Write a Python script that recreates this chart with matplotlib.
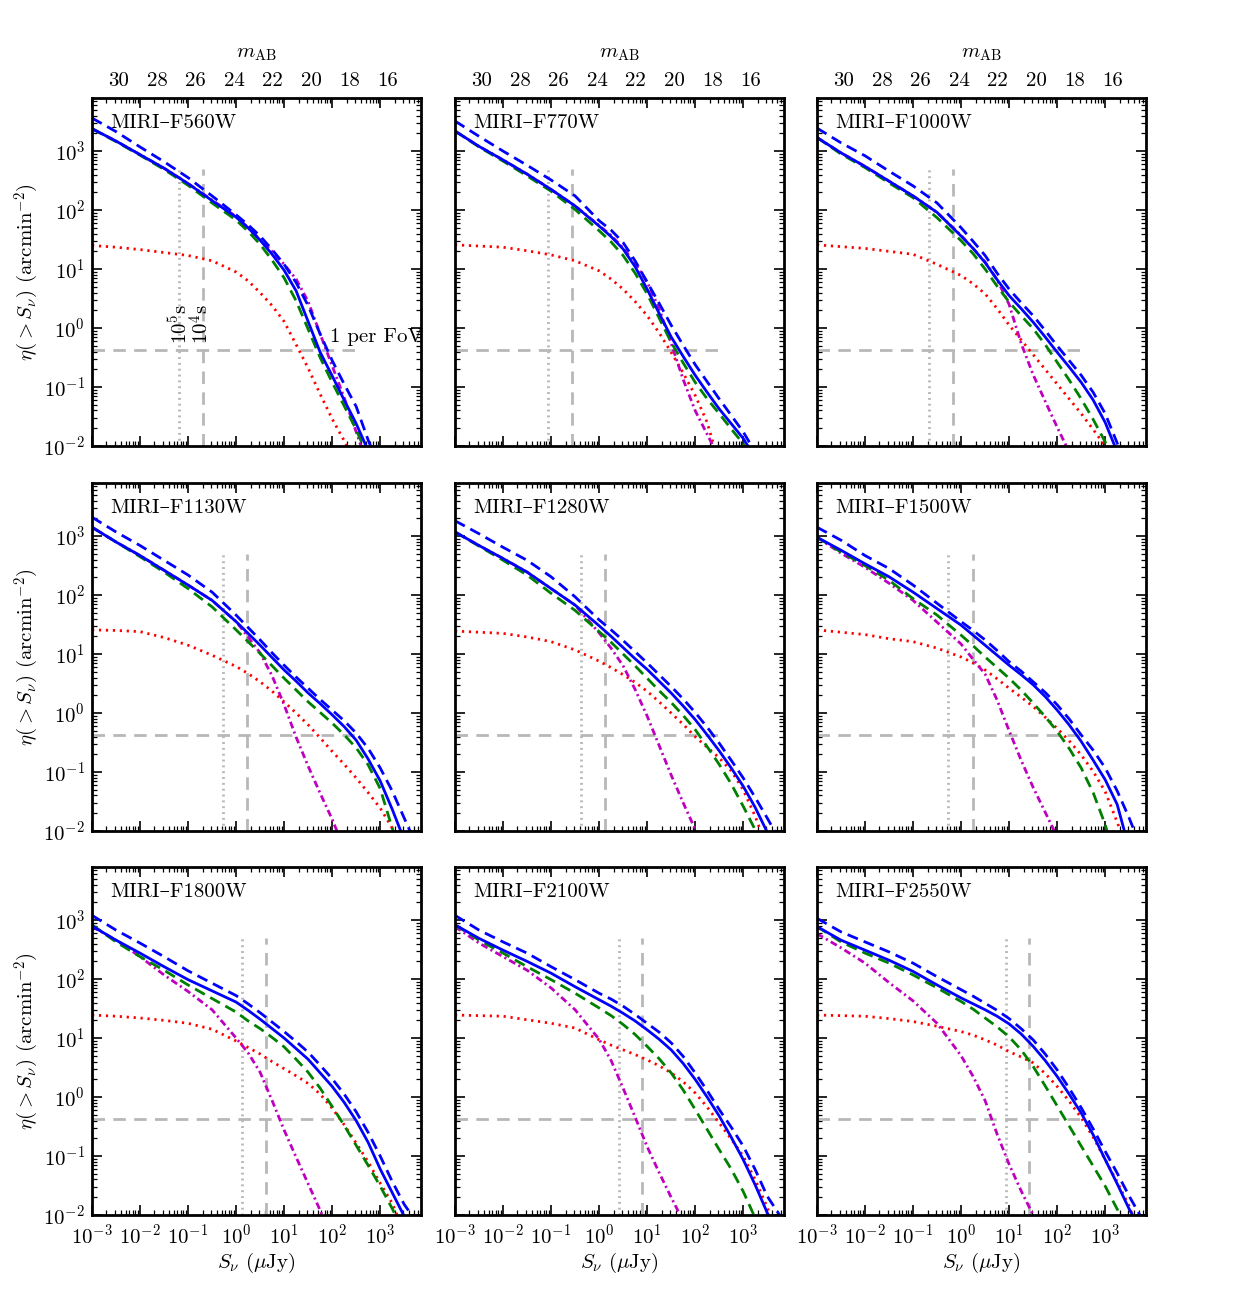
import numpy as np
import matplotlib
matplotlib.use("Agg")
import matplotlib.pyplot as plt
from matplotlib.ticker import LogLocator, NullFormatter, FixedLocator, FormatStrFormatter

plt.rcParams['font.family'] = ['cmr10', 'DejaVu Serif']
plt.rcParams['mathtext.fontset'] = 'cm'
plt.rcParams['axes.formatter.use_mathtext'] = True
plt.rcParams['axes.unicode_minus'] = False
plt.rcParams['lines.scale_dashes'] = False

### DATA ###
filters = ['MIRI–F560W', 'MIRI–F770W', 'MIRI–F1000W',
           'MIRI–F1130W', 'MIRI–F1280W', 'MIRI–F1500W',
           'MIRI–F1800W', 'MIRI–F2100W', 'MIRI–F2550W']

# log10 S_nu (uJy) where the curves were read
log_S = [-3, -2.5, -2, -1.5, -1, -0.5, 0, 0.25, 0.5, 0.75, 1, 1.25,
         1.5, 1.75, 2, 2.25, 2.5, 2.75, 3, 3.25, 3.5, 4]

# log10 eta(>S) (arcmin^-2), one row per filter
# total counts (solid blue)
log_eta_total = [
    [3.38, 3.17, 2.94, 2.71, 2.45, 2.16, 1.88, 1.70, 1.49, 1.25, 0.98, 0.63, 0.11, -0.41, -0.81, -1.22, -1.62, -2.08, -2.55, -3.0, -3.5, -4.4],
    [3.34, 3.08, 2.85, 2.61, 2.35, 2.07, 1.73, 1.55, 1.34, 1.04, 0.66, 0.25, -0.15, -0.48, -0.80, -1.09, -1.37, -1.62, -1.87, -2.2, -2.6, -3.4],
    [3.23, 2.97, 2.74, 2.49, 2.24, 1.96, 1.56, 1.35, 1.11, 0.82, 0.55, 0.33, 0.10, -0.15, -0.41, -0.66, -0.92, -1.22, -1.60, -2.1, -2.7, -4.0],
    [3.15, 2.90, 2.67, 2.42, 2.17, 1.91, 1.55, 1.35, 1.15, 0.94, 0.73, 0.54, 0.34, 0.16, -0.03, -0.23, -0.46, -0.78, -1.15, -1.63, -2.15, -3.2],
    [3.07, 2.84, 2.62, 2.39, 2.11, 1.83, 1.48, 1.30, 1.11, 0.92, 0.74, 0.54, 0.34, 0.12, -0.11, -0.37, -0.64, -0.93, -1.24, -1.60, -2.02, -3.0],
    [2.98, 2.76, 2.53, 2.31, 2.05, 1.77, 1.49, 1.32, 1.15, 0.98, 0.81, 0.65, 0.48, 0.28, 0.05, -0.20, -0.48, -0.80, -1.13, -1.55, -2.3, -3.3],
    [2.90, 2.66, 2.44, 2.21, 1.99, 1.80, 1.61, 1.47, 1.32, 1.16, 1.00, 0.82, 0.64, 0.41, 0.18, -0.09, -0.40, -0.77, -1.22, -1.62, -2.02, -2.8],
    [2.92, 2.69, 2.49, 2.30, 2.10, 1.87, 1.65, 1.54, 1.42, 1.29, 1.14, 0.98, 0.80, 0.57, 0.30, 0.00, -0.32, -0.68, -1.06, -1.49, -1.96, -2.8],
    [2.89, 2.66, 2.49, 2.32, 2.13, 1.90, 1.68, 1.58, 1.48, 1.37, 1.24, 1.07, 0.86, 0.62, 0.35, 0.05, -0.27, -0.64, -1.06, -1.47, -1.90, -2.6],
]
# upper total (dashed blue)
log_eta_total_hi = [
    [3.56, 3.33, 3.07, 2.82, 2.55, 2.24, 1.92, 1.75, 1.56, 1.33, 1.08, 0.77, 0.38, -0.10, -0.55, -0.95, -1.33, -1.90, -2.4, -2.9, -3.4, -4.3],
    [3.51, 3.25, 3.00, 2.76, 2.51, 2.24, 1.82, 1.66, 1.45, 1.14, 0.78, 0.42, 0.05, -0.29, -0.62, -0.91, -1.20, -1.48, -1.76, -2.1, -2.5, -3.3],
    [3.39, 3.14, 2.92, 2.66, 2.41, 2.12, 1.70, 1.47, 1.23, 0.93, 0.66, 0.43, 0.21, -0.04, -0.30, -0.55, -0.80, -1.09, -1.45, -1.95, -2.5, -3.5],
    [3.32, 3.07, 2.84, 2.59, 2.34, 2.05, 1.66, 1.45, 1.24, 1.02, 0.81, 0.61, 0.42, 0.23, 0.05, -0.13, -0.34, -0.60, -0.93, -1.32, -1.78, -2.7],
    [3.26, 3.04, 2.81, 2.59, 2.31, 1.97, 1.58, 1.41, 1.23, 1.04, 0.85, 0.65, 0.45, 0.24, 0.01, -0.24, -0.51, -0.80, -1.10, -1.43, -1.78, -2.5],
    [3.15, 2.93, 2.67, 2.45, 2.17, 1.86, 1.55, 1.40, 1.24, 1.06, 0.87, 0.71, 0.53, 0.35, 0.14, -0.10, -0.37, -0.63, -0.93, -1.32, -1.78, -2.8],
    [3.08, 2.83, 2.61, 2.38, 2.14, 1.93, 1.72, 1.58, 1.43, 1.27, 1.11, 0.94, 0.76, 0.54, 0.31, 0.05, -0.25, -0.60, -1.00, -1.43, -1.82, -2.4],
    [3.08, 2.83, 2.63, 2.44, 2.21, 1.99, 1.76, 1.66, 1.54, 1.40, 1.25, 1.10, 0.92, 0.69, 0.41, 0.11, -0.21, -0.51, -0.83, -1.23, -1.68, -2.3],
    [3.03, 2.80, 2.63, 2.46, 2.27, 2.04, 1.82, 1.71, 1.59, 1.47, 1.33, 1.16, 0.97, 0.73, 0.46, 0.15, -0.18, -0.54, -0.92, -1.29, -1.68, -2.4],
]
# dashed green component
log_eta_green = [
    [3.38, 3.16, 2.93, 2.69, 2.42, 2.12, 1.83, 1.64, 1.42, 1.15, 0.85, 0.46, -0.02, -0.50, -0.92, -1.32, -1.72, -2.2, -2.7, -3.2, -3.6, -4.5],
    [3.34, 3.07, 2.83, 2.58, 2.32, 2.01, 1.65, 1.46, 1.23, 0.93, 0.58, 0.17, -0.24, -0.59, -0.92, -1.20, -1.45, -1.71, -1.96, -2.3, -2.7, -3.5],
    [3.23, 2.95, 2.72, 2.46, 2.21, 1.87, 1.48, 1.26, 1.00, 0.71, 0.44, 0.21, -0.01, -0.28, -0.58, -0.88, -1.20, -1.55, -1.93, -2.4, -3.0, -4.0],
    [3.15, 2.90, 2.65, 2.39, 2.11, 1.80, 1.41, 1.21, 1.01, 0.80, 0.59, 0.39, 0.19, 0.01, -0.17, -0.37, -0.59, -0.88, -1.28, -1.95, -2.6, -3.6],
    [3.07, 2.83, 2.59, 2.34, 2.03, 1.74, 1.38, 1.20, 1.00, 0.80, 0.59, 0.38, 0.18, -0.04, -0.28, -0.57, -0.87, -1.20, -1.58, -1.98, -2.5, -3.5],
    [2.98, 2.73, 2.50, 2.25, 1.94, 1.66, 1.32, 1.14, 0.95, 0.77, 0.59, 0.39, 0.17, -0.06, -0.31, -0.60, -0.93, -1.35, -1.89, -2.6, -3.2, -4.0],
    [2.92, 2.63, 2.38, 2.15, 1.90, 1.67, 1.44, 1.29, 1.16, 1.01, 0.85, 0.64, 0.42, 0.15, -0.16, -0.48, -0.82, -1.16, -1.51, -1.89, -2.3, -3.1],
    [2.92, 2.66, 2.44, 2.21, 1.99, 1.76, 1.51, 1.38, 1.23, 1.06, 0.86, 0.65, 0.41, 0.12, -0.21, -0.55, -0.89, -1.22, -1.60, -2.05, -2.5, -3.2],
    [2.89, 2.63, 2.44, 2.27, 2.07, 1.85, 1.62, 1.49, 1.34, 1.19, 1.02, 0.80, 0.52, 0.19, -0.15, -0.49, -0.83, -1.17, -1.51, -1.90, -2.3, -3.1],
]
# dash-dot magenta component
log_eta_magenta = [
    [3.38, 3.17, 2.94, 2.71, 2.45, 2.17, 1.89, 1.70, 1.50, 1.30, 1.08, 0.83, 0.45, -0.10, -0.64, -1.18, -1.76, -2.35, -2.9, -3.5, -4.0, -5.0],
    [3.34, 3.08, 2.85, 2.61, 2.35, 2.07, 1.74, 1.57, 1.36, 1.10, 0.78, 0.33, -0.26, -0.87, -1.40, -1.80, -2.2, -2.6, -3.0, -3.5, -4.0, -5.0],
    [3.23, 2.97, 2.74, 2.49, 2.24, 1.96, 1.57, 1.35, 1.12, 0.82, 0.40, -0.26, -0.79, -1.24, -1.68, -2.1, -2.6, -3.1, -3.6, -4.0, -5.0, -6.0],
    [3.15, 2.90, 2.67, 2.42, 2.17, 1.91, 1.55, 1.29, 1.02, 0.63, 0.14, -0.41, -0.90, -1.36, -1.80, -2.3, -3.0, -3.5, -4.0, -4.5, -5.0, -6.0],
    [3.07, 2.84, 2.62, 2.39, 2.11, 1.83, 1.36, 1.10, 0.80, 0.40, -0.05, -0.55, -1.05, -1.52, -1.97, -2.45, -3.0, -3.5, -4.0, -4.5, -5.0, -6.0],
    [2.98, 2.71, 2.47, 2.20, 1.91, 1.54, 1.17, 0.91, 0.66, 0.22, -0.30, -0.80, -1.26, -1.68, -2.1, -2.6, -3.0, -3.5, -4.0, -4.5, -5.0, -6.0],
    [2.89, 2.66, 2.38, 2.07, 1.79, 1.48, 1.00, 0.75, 0.42, -0.06, -0.56, -1.02, -1.47, -1.92, -2.4, -2.9, -3.4, -4.0, -4.5, -5.0, -5.5, -6.0],
    [2.89, 2.61, 2.38, 2.15, 1.85, 1.48, 0.98, 0.62, 0.15, -0.34, -0.84, -1.28, -1.70, -2.1, -2.5, -3.0, -3.5, -4.0, -4.5, -5.0, -5.5, -6.0],
    [2.77, 2.53, 2.27, 1.94, 1.63, 1.25, 0.70, 0.35, -0.06, -0.63, -1.14, -1.59, -2.0, -2.5, -3.0, -3.5, -4.0, -4.5, -5.0, -5.5, -6.0, -7.0],
]
# dotted red component
log_eta_red = [
    [1.40, 1.37, 1.33, 1.28, 1.23, 1.14, 0.95, 0.80, 0.60, 0.38, 0.11, -0.28, -0.68, -1.12, -1.54, -1.91, -2.3, -2.7, -3.1, -3.5, -4.0, -5.0],
    [1.41, 1.39, 1.37, 1.31, 1.24, 1.14, 0.97, 0.83, 0.66, 0.45, 0.21, -0.08, -0.41, -0.76, -1.14, -1.60, -2.3, -3.0, -4.0, -4.5, -5.0, -6.0],
    [1.41, 1.38, 1.35, 1.30, 1.25, 1.08, 0.89, 0.75, 0.58, 0.33, 0.05, -0.20, -0.45, -0.70, -0.95, -1.20, -1.45, -1.72, -2.0, -2.4, -2.8, -4.0],
    [1.41, 1.40, 1.38, 1.28, 1.15, 0.98, 0.79, 0.67, 0.53, 0.37, 0.19, 0.00, -0.20, -0.42, -0.65, -0.87, -1.10, -1.35, -1.61, -1.95, -2.5, -3.5],
    [1.39, 1.37, 1.35, 1.29, 1.21, 1.07, 0.88, 0.77, 0.65, 0.52, 0.37, 0.19, 0.00, -0.19, -0.40, -0.58, -0.76, -0.98, -1.30, -1.75, -2.3, -3.5],
    [1.41, 1.37, 1.33, 1.26, 1.21, 1.10, 0.95, 0.85, 0.73, 0.58, 0.42, 0.27, 0.11, -0.07, -0.26, -0.47, -0.71, -0.99, -1.33, -1.85, -2.4, -3.5],
    [1.39, 1.37, 1.34, 1.30, 1.25, 1.15, 0.95, 0.84, 0.73, 0.60, 0.48, 0.36, 0.23, 0.05, -0.19, -0.47, -0.78, -1.10, -1.46, -1.80, -2.3, -3.2],
    [1.39, 1.38, 1.37, 1.31, 1.25, 1.17, 0.97, 0.88, 0.80, 0.72, 0.63, 0.53, 0.41, 0.26, 0.07, -0.17, -0.44, -0.71, -1.00, -1.40, -1.87, -3.0],
    [1.39, 1.38, 1.37, 1.33, 1.28, 1.20, 1.11, 1.05, 0.97, 0.88, 0.77, 0.68, 0.58, 0.40, 0.18, -0.07, -0.35, -0.68, -1.06, -1.44, -1.85, -3.0],
]

# point-source sensitivity (uJy) for 1e5 s and 1e4 s
sens_1e5s = [0.065, 0.086, 0.21, 0.54, 0.42, 0.54, 1.35, 2.6, 8.5]
sens_1e4s = [0.20, 0.27, 0.67, 1.7, 1.3, 1.74, 4.2, 7.9, 26.0]
eta_fov = 0.43      # 1 source per MIRI field of view
mag_ticks = [30, 28, 26, 24, 22, 20, 18, 16]
x_decades = [1e-3, 1e-2, 1e-1, 1e0, 1e1, 1e2, 1e3]
y_decades = [1e-2, 1e-1, 1e0, 1e1, 1e2, 1e3]

### PLOT ###
W, H = 1240, 1315
fig = plt.figure(figsize=(W / 100, H / 100), dpi=100)

col_left = [92, 455, 817]
row_top = [98, 483, 867]
pw, ph = 329, 348
gray = (0.72, 0.72, 0.72)
fs = 15


def S_to_m(s):
    s = np.asarray(s, dtype=float)
    with np.errstate(divide='ignore', invalid='ignore'):
        return 23.9 - 2.5 * np.log10(np.where(s > 0, s, np.nan))


def m_to_S(m):
    return 10 ** ((23.9 - np.asarray(m, dtype=float)) / 2.5)


S = 10 ** np.array(log_S)

for k, name in enumerate(filters):
    row, col = k // 3, k % 3
    ax = fig.add_axes([col_left[col] / W, 1 - (row_top[row] + ph) / H, pw / W, ph / H])
    ax.set_xscale('log')
    ax.set_yscale('log')

    # exposure-time sensitivities and 1 per FoV line
    ax.plot([sens_1e5s[k]] * 2, [1e-2, 500], color=gray, lw=2, dashes=(1.4, 2.8))
    ax.plot([sens_1e4s[k]] * 2, [1e-2, 500], color=gray, lw=2, dashes=(9, 6))
    ax.plot([1e-3, 300], [eta_fov] * 2, color=gray, lw=2, dashes=(9, 6))

    ax.plot(S, 10 ** np.array(log_eta_red[k]), color='r', lw=2, dashes=(1.6, 3.4))
    ax.plot(S, 10 ** np.array(log_eta_magenta[k]), color='m', lw=2, dashes=(5, 2.5, 1.5, 2.5))
    ax.plot(S, 10 ** np.array(log_eta_green[k]), color='g', lw=2, dashes=(8, 4.5))
    ax.plot(S, 10 ** np.array(log_eta_total[k]), color='b', lw=2)
    ax.plot(S, 10 ** np.array(log_eta_total_hi[k]), color='b', lw=2, dashes=(8, 4.5))

    ax.set_xlim(1e-3, 10 ** 3.85)
    ax.set_ylim(1e-2, 10 ** 3.9)
    ax.xaxis.set_major_locator(FixedLocator(x_decades))
    ax.yaxis.set_major_locator(FixedLocator(y_decades))
    ax.xaxis.set_minor_locator(LogLocator(base=10, subs=np.arange(2, 10), numticks=20))
    ax.yaxis.set_minor_locator(LogLocator(base=10, subs=np.arange(2, 10), numticks=20))
    ax.xaxis.set_minor_formatter(NullFormatter())
    ax.yaxis.set_minor_formatter(NullFormatter())
    ax.tick_params(which='both', direction='in', top=True, right=True, labelsize=fs)
    ax.tick_params(which='major', length=7, width=1.2)
    ax.tick_params(which='minor', length=3.5, width=0.9)
    ax.tick_params(axis='x', which='major', pad=6)
    ax.tick_params(axis='y', which='major', pad=5)
    for sp in ax.spines.values():
        sp.set_linewidth(2)

    ax.text(0.055, 0.928, name, transform=ax.transAxes, fontsize=fs, va='center', ha='left')

    if col == 0:
        ax.set_ylabel(r'$\eta(>S_\nu)$ (arcmin$^{-2}$)', fontsize=fs, labelpad=2)
    else:
        ax.yaxis.set_major_formatter(NullFormatter())
    if row == 2:
        ax.set_xlabel(r'$S_\nu$ ($\mu$Jy)', fontsize=fs, labelpad=2)
    else:
        ax.xaxis.set_major_formatter(NullFormatter())

    if row == 0:
        sec = ax.secondary_xaxis('top', functions=(S_to_m, m_to_S))
        sec.xaxis.set_major_locator(FixedLocator(mag_ticks))
        sec.xaxis.set_minor_locator(FixedLocator([]))
        sec.xaxis.set_major_formatter(FormatStrFormatter('%d'))
        sec.tick_params(direction='in', length=0, labelsize=fs, pad=6)
        sec.set_xlabel(r'$m_{\rm AB}$', fontsize=fs, labelpad=10)
        sec.spines['top'].set_visible(False)

    if k == 0:
        ax.text(90, 0.5, '1 per FoV', fontsize=fs, ha='left', va='bottom')
        ax.text(sens_1e5s[k], 1.15, r'$10^5$s', fontsize=fs, rotation=90, ha='center', va='center')
        ax.text(sens_1e4s[k] * 0.93, 1.15, r'$10^4$s', fontsize=fs, rotation=90, ha='center', va='center')

fig.savefig('out.png', dpi=100)
